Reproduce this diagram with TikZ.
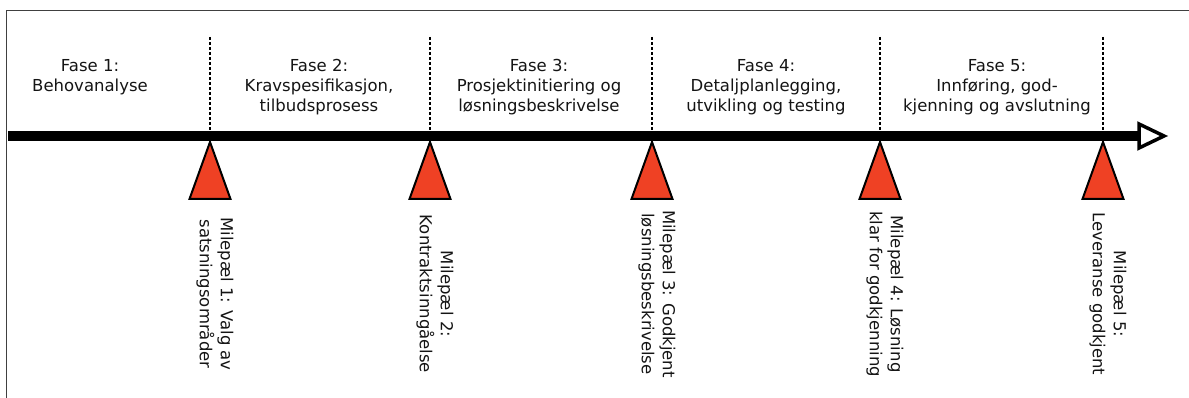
\documentclass[tikz,border=0pt]{standalone}
\usepackage{fontspec}
\setmainfont{DejaVu Sans}
\definecolor{milered}{RGB}{239,65,36}
\definecolor{txtgray}{RGB}{20,20,20}

\begin{document}
\begin{tikzpicture}[x=1pt,y=-1pt,
    fase/.style={anchor=north,align=center,inner sep=0pt,text=txtgray,
      font=\fontsize{16.5}{20}\selectfont},
    mile/.style={rotate=-90,align=center,inner sep=0pt,text=txtgray,
      font=\fontsize{16.5}{21}\selectfont},
    milemark/.style={draw=black,line width=2pt,fill=milered}]
        \useasboundingbox (0,0) rectangle (1189,398);
        \def\ya{136}
        %% frame
        \draw[line width=1.6pt,black!75] (6.5,398) -- (6.5,10.5) -- (1189,10.5);
        %% time axis
        \coordinate (start) at (8,\ya);
        \coordinate (end) at (1140,\ya);
        \draw[line width=10pt] (start) -- (end);
        \draw[line width=3.5pt,fill=white,line join=miter] (1139,124) -- (1164,\ya) -- (1139,148) -- cycle;
        %% phases
        \foreach \x/\n/\txt in {90/1/{Fase 1:\\Behovanalyse},
            319/2/{Fase 2:\\Kravspesifikasjon,\\tilbudsprosess},
            539/3/{Fase 3:\\Prosjektinitiering og\\løsningsbeskrivelse},
            766/4/{Fase 4:\\Detaljplanlegging,\\utvikling og testing},
            997/5/{Fase 5:\\Innføring, god-\\kjenning og avslutning}}
            \node[fase] (f\n) at (\x,59) {\txt};
        %% milestones
        \foreach \x/\n/\txt in {210/1/{Milepæl 1: Valg av\\satsningsområder},
            430/2/{Milepæl 2:\\Kontraktsinngåelse},
            652/3/{Milepæl 3: Godkjent\\løsningsbeskrivelse},
            880/4/{Milepæl 4: Løsning\\klar for godkjenning},
            1103/5/{Milepæl 5:\\Leveranse godkjent}}{
            \draw[densely dashed,line width=1.5pt] (\x,37) -- (\x,131);
            \draw[milemark] (\x,142) -- (\x+20.5,199) -- (\x-20.5,199) -- cycle;
            \node[mile] (m\n) at (\x+5,294) {\txt};
        }
    \end{tikzpicture}
\end{document}
